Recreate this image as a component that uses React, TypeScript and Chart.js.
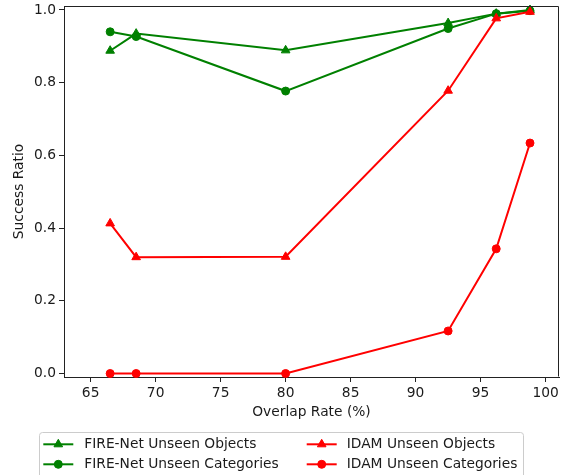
import React, { useEffect, useRef } from 'react';
import { Chart, registerables } from 'chart.js';

Chart.register(...registerables);

// ---- data ----
const overlapRates = [66.5, 68.5, 80.0, 92.5, 96.2, 98.8];
const fireNetUnseenObjects = [0.888, 0.935, 0.889, 0.964, 0.990, 1.0];
const fireNetUnseenCategories = [0.940, 0.927, 0.777, 0.949, 0.990, 0.998];
const idamUnseenObjects = [0.413, 0.320, 0.321, 0.778, 0.977, 0.995];
const idamUnseenCategories = [0.0, 0.0, 0.0, 0.117, 0.343, 0.634];

const seriesLabels = [
  'FIRE-Net Unseen Objects',
  'FIRE-Net Unseen Categories',
  'IDAM Unseen Objects',
  'IDAM Unseen Categories',
];

const xTicks = [65, 70, 75, 80, 85, 90, 95, 100];
const yTicks = [0.0, 0.2, 0.4, 0.6, 0.8, 1.0];
const xTitle = 'Overlap Rate (%)';
const yTitle = 'Success Ratio';

const GREEN = '#008000';
const RED = '#ff0000';
const AXIS = '#222222';
const TEXT = '#1a1a1a';
const FONT = 'DejaVu Sans';
const FSIZE = 13.8;
const TRI_R = 5;
const CIRC_R = 4;

function toPoints(ys: number[]) {
  return overlapRates.map((x, i) => ({ x, y: ys[i] }));
}

function drawMarker(ctx: CanvasRenderingContext2D, style: string, x: number, y: number, color: string) {
  ctx.fillStyle = color;
  ctx.strokeStyle = color;
  ctx.lineWidth = 1;
  ctx.beginPath();
  if (style === 'triangle') {
    const r = TRI_R;
    ctx.moveTo(x, y - r);
    ctx.lineTo(x + r * Math.sin((2 * Math.PI) / 3), y + r / 2);
    ctx.lineTo(x - r * Math.sin((2 * Math.PI) / 3), y + r / 2);
    ctx.closePath();
  } else {
    ctx.arc(x, y, CIRC_R, 0, Math.PI * 2);
  }
  ctx.fill();
  ctx.stroke();
}

const framePlugin = {
  id: 'mplFrame',
  afterDatasetsDraw(chart: any) {
    const { ctx, chartArea } = chart;
    ctx.save();
    ctx.strokeStyle = AXIS;
    ctx.lineWidth = 1;
    ctx.beginPath();
    const t = Math.round(chartArea.top) + 0.5;
    const r = Math.round(chartArea.right) - 0.5;
    const l = Math.round(chartArea.left) + 0.5;
    const b = Math.round(chartArea.bottom) - 0.5;
    ctx.moveTo(l, t);
    ctx.lineTo(r, t);
    ctx.lineTo(r, b);
    ctx.stroke();
    ctx.restore();
  },
};

const legendPlugin = {
  id: 'mplLegend',
  afterDraw(chart: any) {
    const ctx: CanvasRenderingContext2D = chart.ctx;
    ctx.save();
    ctx.beginPath();
    (ctx as any).roundRect(39.5, 432.5, 484, 46, 3);
    ctx.fillStyle = 'rgba(255,255,255,0.8)';
    ctx.fill();
    ctx.strokeStyle = '#cccccc';
    ctx.lineWidth = 1;
    ctx.stroke();

    const cols = [
      { lx: 43.3, tx: 84.3 },
      { lx: 306.7, tx: 346.7 },
    ];
    const rows = [444.3, 464.3];
    chart.data.datasets.forEach((ds: any, i: number) => {
      const col = cols[Math.floor(i / 2)];
      const y = rows[i % 2];
      ctx.strokeStyle = ds.borderColor;
      ctx.lineWidth = 2;
      ctx.beginPath();
      ctx.moveTo(col.lx, y);
      ctx.lineTo(col.lx + 30, y);
      ctx.stroke();
      drawMarker(ctx, ds.pointStyle, col.lx + 15, y, ds.borderColor);
      ctx.fillStyle = TEXT;
      ctx.font = `${FSIZE}px "${FONT}"`;
      ctx.textAlign = 'left';
      ctx.textBaseline = 'middle';
      ctx.fillText(ds.label, col.tx, y);
    });
    ctx.restore();
  },
};

export default function App() {
  const canvasRef = useRef<HTMLCanvasElement | null>(null);

  useEffect(() => {
    document.body.style.margin = '0';
    const canvas = canvasRef.current;
    if (!canvas) return;

    Chart.defaults.font.family = FONT;
    Chart.defaults.font.size = FSIZE;
    Chart.defaults.color = TEXT;

    const mk = (label: string, ys: number[], color: string, style: string, order: number) => ({
      label,
      data: toPoints(ys),
      borderColor: color,
      backgroundColor: color,
      borderWidth: 2,
      pointStyle: style,
      pointRadius: style === 'triangle' ? TRI_R : CIRC_R,
      pointBorderWidth: 1,
      pointBackgroundColor: color,
      pointBorderColor: color,
      tension: 0,
      fill: false,
      clip: false as any,
      order,
    });

    const chart = new Chart(canvas, {
      type: 'line',
      data: {
        datasets: [
          mk(seriesLabels[0], fireNetUnseenObjects, GREEN, 'triangle', 4),
          mk(seriesLabels[1], fireNetUnseenCategories, GREEN, 'circle', 3),
          mk(seriesLabels[2], idamUnseenObjects, RED, 'triangle', 2),
          mk(seriesLabels[3], idamUnseenCategories, RED, 'circle', 1),
        ],
      },
      options: {
        animation: false,
        responsive: false,
        devicePixelRatio: 1,
        layout: { padding: { left: 0, top: 6, right: 4, bottom: 0 } },
        plugins: {
          legend: { display: false },
          tooltip: { enabled: false },
        },
        scales: {
          x: {
            type: 'linear',
            min: 62.95,
            max: 101.03,
            afterBuildTicks: (axis: any) => {
              axis.ticks = xTicks.map((v) => ({ value: v }));
            },
            afterFit: (axis: any) => {
              axis.height = 98;
              axis.paddingLeft = 0;
              axis.paddingRight = 0;
            },
            grid: { drawOnChartArea: false, tickLength: 5, tickColor: AXIS, tickWidth: 1 },
            border: { color: AXIS, width: 1 },
            ticks: {
              autoSkip: false,
              maxRotation: 0,
              padding: 3,
              color: TEXT,
              callback: (v: any) => String(v),
            },
            title: {
              display: true,
              text: xTitle,
              color: TEXT,
              padding: { top: 0, bottom: 54 },
            },
          },
          y: {
            type: 'linear',
            min: -0.0096,
            max: 1.011,
            afterBuildTicks: (axis: any) => {
              axis.ticks = yTicks.map((v) => ({ value: v }));
            },
            afterFit: (axis: any) => {
              axis.width = 64;
              axis.paddingTop = 0;
              axis.paddingBottom = 0;
            },
            grid: { drawOnChartArea: false, tickLength: 5, tickColor: AXIS, tickWidth: 1 },
            border: { color: AXIS, width: 1 },
            ticks: {
              padding: 3,
              color: TEXT,
              callback: (v: any) => Number(v).toFixed(1),
            },
            title: {
              display: true,
              text: yTitle,
              color: TEXT,
              padding: { top: 11, bottom: 0 },
            },
          },
        },
      },
      plugins: [framePlugin, legendPlugin],
    });

    return () => chart.destroy();
  }, []);

  return (
    <div style={{ width: 565, height: 475 }}>
      <canvas ref={canvasRef} width={565} height={475} style={{ display: 'block' }} />
    </div>
  );
}
